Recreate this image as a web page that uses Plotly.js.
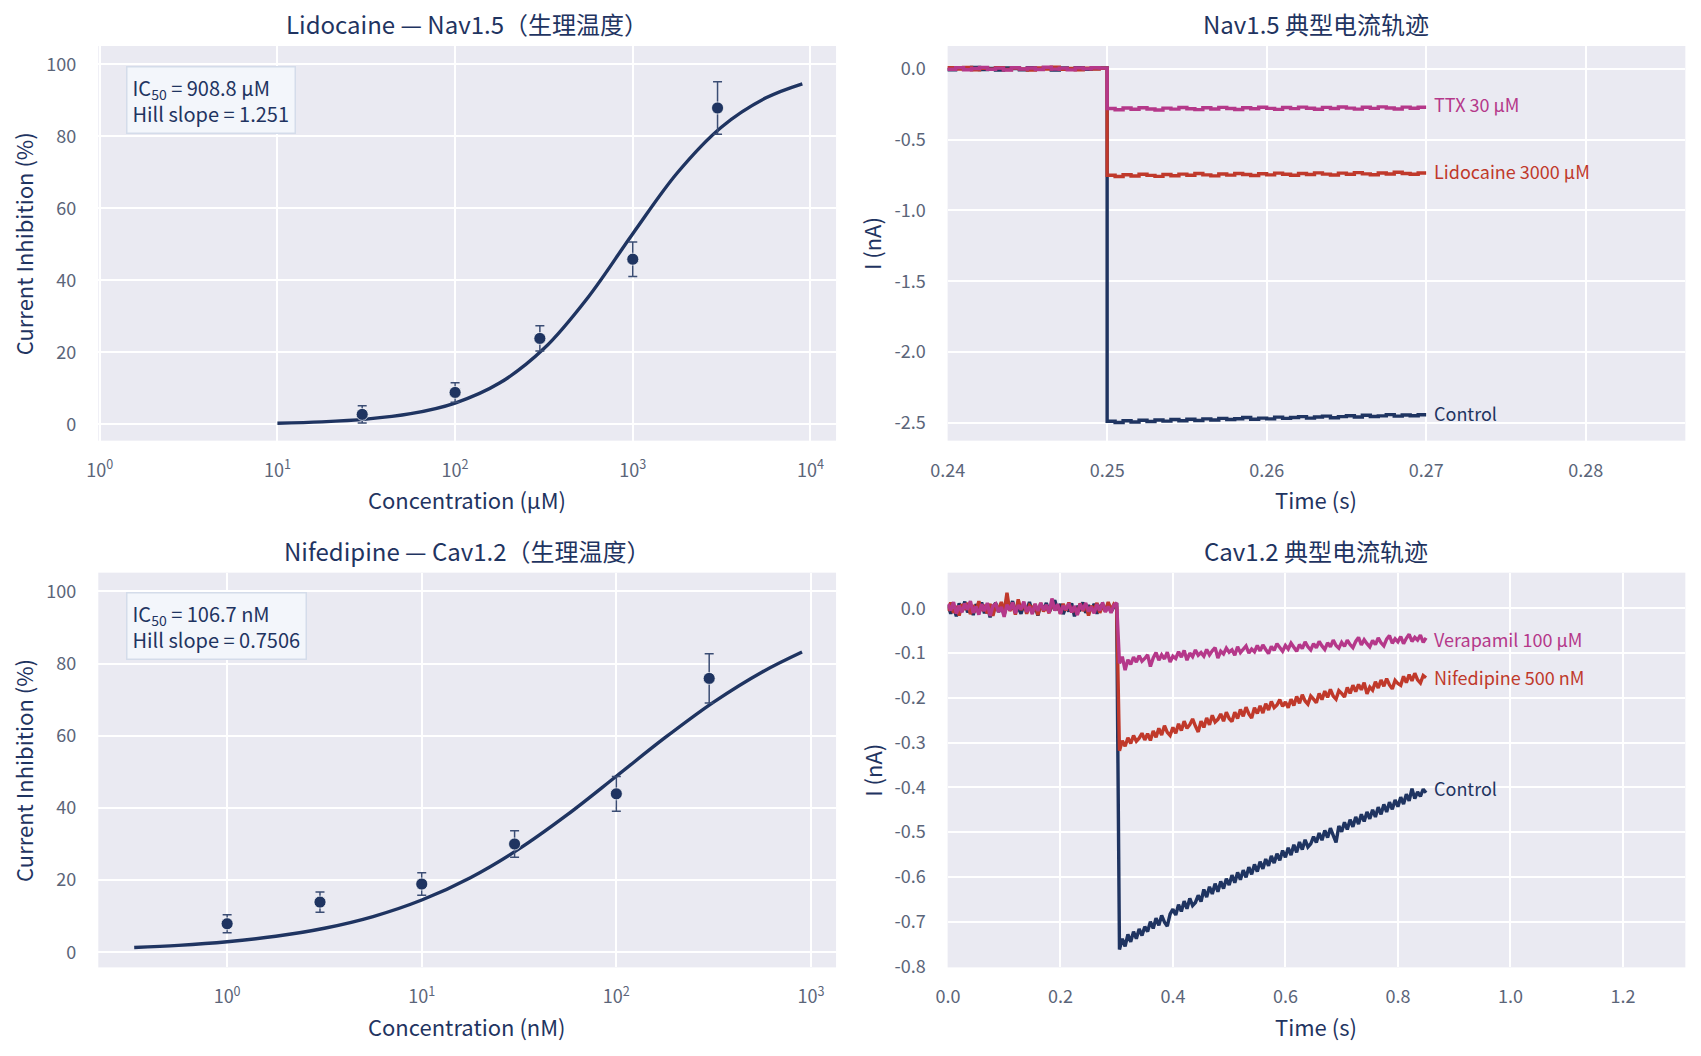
<!DOCTYPE html>
<html>
<head>
<meta charset="utf-8">
<script src="https://cdn.plot.ly/plotly-3.0.1.min.js"></script>
<style>html,body{margin:0;padding:0;background:#fff;}#chart{width:1701px;height:1056px;}</style>
</head>
<body>
<div id="chart"></div>
<script>
// ---------- Dose-response data ----------
const lidoConc = [30, 100, 300, 1000, 3000];
const lidoInhib = [2.8, 8.9, 23.9, 45.9, 87.9];
const lidoErr = [2.4, 2.7, 3.5, 4.8, 7.3];
const lidoFitConc = [10, 17.78, 31.62, 56.23, 100, 177.8, 316.2, 562.3, 1000, 1778, 3162, 5623, 9000];
const lidoFitInhib = [0.35, 0.72, 1.48, 2.99, 5.95, 11.5, 21.07, 35.42, 52.98, 69.84, 82.63, 90.72, 94.62];

const nifeConc = [1, 3, 10, 30, 100, 300];
const nifeInhib = [7.9, 13.9, 18.9, 30.0, 43.9, 75.9];
const nifeErr = [2.5, 2.8, 3.1, 3.7, 4.8, 6.8];
const nifeFitConc = [0.333, 0.562, 1, 1.778, 3.162, 5.623, 10, 17.78, 31.62, 56.23, 100, 177.8, 316.2, 562.3, 900];
const nifeFitInhib = [1.30, 1.91, 2.92, 4.42, 6.65, 9.89, 14.47, 20.67, 28.64, 38.20, 48.78, 59.46, 69.33, 77.69, 83.21];

const logTickVals1 = [1, 10, 100, 1000, 10000];
const logTickText1 = ['10<sup>0</sup>', '10<sup>1</sup>', '10<sup>2</sup>', '10<sup>3</sup>', '10<sup>4</sup>'];
const logTickVals3 = [1, 10, 100, 1000];
const logTickText3 = ['10<sup>0</sup>', '10<sup>1</sup>', '10<sup>2</sup>', '10<sup>3</sup>'];
const navYTickVals = [0, -0.5, -1, -1.5, -2, -2.5];
const navYTickText = ['0.0', '-0.5', '-1.0', '-1.5', '-2.0', '-2.5'];
const cavYTickVals = [0, -0.1, -0.2, -0.3, -0.4, -0.5, -0.6, -0.7, -0.8];
const cavYTickText = ['0.0', '-0.1', '-0.2', '-0.3', '-0.4', '-0.5', '-0.6', '-0.7', '-0.8'];

// ---------- Nav1.5 traces (start 0.24 s, step 0.0005 s) ----------
const navT0 = 0.24, navDt = 0.0005;
const navControlBase = [0.004, -0.008, 0.006, -0.003, 0.009, -0.006, 0.002, -0.01, 0.005, 0.001,
  -0.007, 0.008, -0.004, 0.003, -0.009, 0.006, -0.002, 0.007, -0.005, 0.002,
  0.005];
const navControlPost = [-2.488, -2.497, -2.484, -2.493, -2.481, -2.49, -2.479, -2.487, -2.476, -2.484,
  -2.474, -2.483, -2.471, -2.479, -2.468, -2.476, -2.47, -2.462, -2.474, -2.466,
  -2.471, -2.459, -2.468, -2.461, -2.455, -2.466, -2.458, -2.452, -2.463, -2.455,
  -2.449, -2.458, -2.446, -2.454, -2.45, -2.441, -2.452, -2.444, -2.449, -2.442];
const navLidoBase = [-0.005, 0.007, -0.002, 0.009, -0.008, 0.003, -0.004, 0.008, -0.006, 0.005,
  -0.001, -0.009, 0.006, -0.003, 0.01, -0.005, 0.002, -0.007, 0.004, -0.002,
  0.003];
const navLidoPost = [-0.752, -0.761, -0.748, -0.757, -0.745, -0.753, -0.76, -0.747, -0.755, -0.744,
  -0.752, -0.74, -0.749, -0.756, -0.743, -0.751, -0.739, -0.747, -0.754, -0.741,
  -0.749, -0.737, -0.745, -0.752, -0.739, -0.747, -0.735, -0.744, -0.75, -0.737,
  -0.745, -0.733, -0.742, -0.748, -0.736, -0.743, -0.731, -0.74, -0.745, -0.736];
const navTtxBase = [0.006, -0.004, 0.008, -0.007, 0.002, 0.009, -0.005, 0.004, -0.009, 0.007,
  -0.002, 0.005, -0.006, 0.01, -0.003, 0.004, -0.008, 0.006, -0.001, 0.007,
  0.004];
const navTtxPost = [-0.281, -0.29, -0.277, -0.286, -0.275, -0.284, -0.291, -0.278, -0.285, -0.274,
  -0.283, -0.289, -0.276, -0.284, -0.273, -0.281, -0.288, -0.275, -0.283, -0.272,
  -0.28, -0.287, -0.274, -0.282, -0.271, -0.279, -0.286, -0.273, -0.281, -0.27,
  -0.278, -0.285, -0.272, -0.28, -0.269, -0.277, -0.284, -0.271, -0.279, -0.272];

// ---------- Cav1.2 traces (start 0 s, step 0.005 s) ----------
const cavT0 = 0, cavDt = 0.005;
const cavControlBase = [0.008, -0.012, 0.004, -0.018, 0.011, -0.006, 0.015, -0.009, 0.002, -0.015,
  0.009, -0.004, 0.013, -0.011, 0.006, -0.02, 0.003, 0.012, -0.008, 0.005,
  -0.014, 0.01, -0.003, 0.016, -0.007, 0.001, -0.012, 0.008, -0.005, 0.014,
  -0.01, 0.004, -0.016, 0.009, -0.002, 0.012, -0.009, 0.006, 0.018, -0.004,
  0.01, -0.013, 0.003, -0.007, 0.011, -0.018, 0.005, -0.002, 0.013, -0.01,
  0.007, -0.005, 0.01, -0.012, 0.004, 0.009, -0.006, 0.012, -0.008, 0.003,
  0.006];
const cavControlPost = [-0.762, -0.738, -0.755, -0.728, -0.745, -0.722, -0.738, -0.716, -0.731, -0.711,
  -0.722, -0.7, -0.715, -0.692, -0.708, -0.686, -0.701, -0.71, -0.683, -0.672,
  -0.685, -0.662, -0.677, -0.654, -0.671, -0.648, -0.664, -0.657, -0.641, -0.655,
  -0.628, -0.645, -0.622, -0.638, -0.615, -0.633, -0.61, -0.626, -0.604, -0.618,
  -0.596, -0.613, -0.59, -0.606, -0.585, -0.601, -0.578, -0.594, -0.572, -0.588,
  -0.566, -0.582, -0.56, -0.575, -0.553, -0.569, -0.548, -0.563, -0.541, -0.556,
  -0.535, -0.551, -0.528, -0.545, -0.522, -0.539, -0.517, -0.533, -0.526, -0.51,
  -0.523, -0.502, -0.518, -0.496, -0.512, -0.491, -0.507, -0.523, -0.486, -0.499,
  -0.478, -0.494, -0.472, -0.488, -0.466, -0.482, -0.46, -0.476, -0.455, -0.47,
  -0.45, -0.466, -0.444, -0.46, -0.438, -0.455, -0.433, -0.449, -0.428, -0.443,
  -0.422, -0.437, -0.415, -0.43, -0.403, -0.425, -0.41, -0.42, -0.404, -0.412];
const cavNifeBase = [-0.006, 0.013, -0.01, 0.005, -0.016, 0.009, -0.003, 0.012, -0.013, 0.007,
  -0.008, 0.016, -0.005, 0.003, -0.011, 0.01, -0.017, 0.006, -0.002, 0.014,
  -0.009, 0.035, -0.006, 0.008, -0.014, 0.02, -0.004, 0.011, -0.012, 0.006,
  -0.001, 0.009, -0.015, 0.012, -0.007, 0.004, -0.011, 0.016, -0.003, 0.007,
  -0.012, 0.01, -0.005, 0.013, -0.009, 0.002, -0.014, 0.011, -0.006, 0.008,
  -0.016, 0.005, -0.002, 0.012, -0.01, 0.006, -0.007, 0.014, -0.004, 0.009,
  0.002];
const cavNifePost = [-0.318, -0.296, -0.308, -0.289, -0.302, -0.284, -0.297, -0.29, -0.279, -0.294,
  -0.28, -0.295, -0.274, -0.288, -0.268, -0.283, -0.262, -0.277, -0.284, -0.266,
  -0.279, -0.258, -0.273, -0.252, -0.268, -0.26, -0.247, -0.263, -0.276, -0.252,
  -0.266, -0.245, -0.26, -0.239, -0.254, -0.248, -0.236, -0.252, -0.232, -0.246,
  -0.253, -0.232, -0.246, -0.226, -0.241, -0.221, -0.236, -0.245, -0.222, -0.235,
  -0.218, -0.234, -0.213, -0.227, -0.208, -0.222, -0.216, -0.204, -0.219, -0.209,
  -0.222, -0.203, -0.217, -0.197, -0.212, -0.193, -0.207, -0.214, -0.196, -0.203,
  -0.211, -0.19, -0.204, -0.185, -0.199, -0.181, -0.196, -0.203, -0.184, -0.19,
  -0.198, -0.177, -0.19, -0.172, -0.186, -0.17, -0.182, -0.166, -0.191, -0.176,
  -0.183, -0.164, -0.178, -0.16, -0.174, -0.157, -0.171, -0.18, -0.161, -0.168,
  -0.172, -0.152, -0.166, -0.148, -0.162, -0.145, -0.16, -0.167, -0.15, -0.155];
const cavVeraBase = [0.01, -0.005, 0.014, -0.012, 0.006, -0.009, 0.011, -0.003, 0.016, -0.01,
  0.004, -0.014, 0.009, -0.006, 0.012, -0.017, 0.005, 0.01, -0.008, 0.003,
  -0.019, 0.008, -0.004, 0.013, -0.011, 0.007, -0.002, 0.015, -0.008, 0.004,
  -0.013, 0.01, -0.006, 0.012, -0.004, 0.008, -0.01, 0.022, -0.005, 0.009,
  -0.012, 0.006, -0.003, 0.011, -0.009, 0.005, -0.015, 0.01, -0.004, 0.012,
  -0.007, 0.003, -0.011, 0.009, -0.005, 0.013, -0.008, 0.004, -0.01, 0.007,
  0.012];
const cavVeraPost = [-0.123, -0.108, -0.138, -0.115, -0.125, -0.109, -0.12, -0.106, -0.118, -0.112,
  -0.104, -0.13, -0.111, -0.099, -0.116, -0.104, -0.113, -0.098, -0.12, -0.107,
  -0.112, -0.097, -0.109, -0.094, -0.116, -0.1, -0.108, -0.093, -0.105, -0.099,
  -0.107, -0.092, -0.104, -0.095, -0.088, -0.111, -0.096, -0.102, -0.089, -0.098,
  -0.093, -0.105, -0.086, -0.099, -0.09, -0.084, -0.1, -0.091, -0.097, -0.083,
  -0.095, -0.082, -0.092, -0.101, -0.085, -0.094, -0.079, -0.089, -0.096, -0.083,
  -0.091, -0.078, -0.087, -0.096, -0.081, -0.09, -0.075, -0.086, -0.093, -0.079,
  -0.088, -0.074, -0.084, -0.092, -0.077, -0.086, -0.071, -0.083, -0.089, -0.076,
  -0.085, -0.071, -0.081, -0.088, -0.074, -0.065, -0.082, -0.07, -0.079, -0.086,
  -0.072, -0.081, -0.066, -0.077, -0.084, -0.069, -0.061, -0.078, -0.068, -0.075,
  -0.063, -0.079, -0.067, -0.058, -0.074, -0.065, -0.071, -0.06, -0.076, -0.066];

const navLabels = ['Control', 'Lidocaine 3000 µM', 'TTX 30 µM'];
const navLabelY = [-2.432, -0.72, -0.252];
const cavLabels = ['Control', 'Nifedipine 500 nM', 'Verapamil 100 µM'];
const cavLabelY = [-0.402, -0.153, -0.068];

// ---------- Styling ----------
const NAVY = '#1f3461';
const RED = '#c0392b';
const MAG = '#b5388a';
const TICK = '#5b6579';
const FONT = '"Noto Sans CJK SC", "Noto Sans", sans-serif';
const BG = '#eaeaf2';

function traceLine(base, post, t0, dt, color, xa, ya, w, shape) {
  return {type: 'scatter', mode: 'lines', x0: t0, dx: dt, y: base.concat(post),
    line: {color: color, width: w, shape: shape}, xaxis: xa, yaxis: ya, hoverinfo: 'skip'};
}

const data = [
  {type: 'scatter', mode: 'lines', x: lidoFitConc, y: lidoFitInhib, line: {color: NAVY, width: 3.4, shape: 'spline'}, xaxis: 'x', yaxis: 'y'},
  {type: 'scatter', mode: 'markers', x: lidoConc, y: lidoInhib,
    error_y: {type: 'data', array: lidoErr, visible: true, color: '#3b4d74', thickness: 1.5, width: 4.5},
    marker: {color: NAVY, size: 12, line: {color: 'rgba(255,255,255,0.7)', width: 1}}, xaxis: 'x', yaxis: 'y'},
  traceLine(navControlBase, navControlPost, navT0, navDt, NAVY, 'x2', 'y2', 3.4, 'vh'),
  traceLine(navLidoBase, navLidoPost, navT0, navDt, RED, 'x2', 'y2', 3.4, 'vh'),
  traceLine(navTtxBase, navTtxPost, navT0, navDt, MAG, 'x2', 'y2', 3.4, 'vh'),
  {type: 'scatter', mode: 'lines', x: nifeFitConc, y: nifeFitInhib, line: {color: NAVY, width: 3.4, shape: 'spline'}, xaxis: 'x3', yaxis: 'y3'},
  {type: 'scatter', mode: 'markers', x: nifeConc, y: nifeInhib,
    error_y: {type: 'data', array: nifeErr, visible: true, color: '#3b4d74', thickness: 1.5, width: 4.5},
    marker: {color: NAVY, size: 12, line: {color: 'rgba(255,255,255,0.7)', width: 1}}, xaxis: 'x3', yaxis: 'y3'},
  traceLine(cavControlBase, cavControlPost, cavT0, cavDt, NAVY, 'x4', 'y4', 3.4, 'linear'),
  traceLine(cavNifeBase, cavNifePost, cavT0, cavDt, RED, 'x4', 'y4', 3.4, 'linear'),
  traceLine(cavVeraBase, cavVeraPost, cavT0, cavDt, MAG, 'x4', 'y4', 3.4, 'linear')
];

const gridAxis = {
  showgrid: true, gridcolor: '#ffffff', gridwidth: 2, zeroline: false, showline: false,
  ticks: '', tickfont: {family: FONT, size: 18, color: TICK}
};

const XL = [0.0578, 0.4915], XR = [0.5571, 0.9908];
const YT = [0.5827, 0.9564], YB = [0.0839, 0.4577];

const layout = {
  width: 1701, height: 1056,
  margin: {l: 0, r: 0, t: 0, b: 0},
  paper_bgcolor: '#ffffff', plot_bgcolor: BG,
  showlegend: false, hovermode: false,
  font: {family: FONT, color: NAVY},
  xaxis: Object.assign({}, gridAxis, {domain: XL, anchor: 'y', type: 'log', range: [-0.008, 4.144],
    tickmode: 'array', tickvals: logTickVals1, ticktext: logTickText1, ticklabelstandoff: 17}),
  yaxis: Object.assign({}, gridAxis, {domain: YT, anchor: 'x', range: [-4.5, 105.1], dtick: 20, tick0: 0, ticklabelstandoff: 21}),
  xaxis2: Object.assign({}, gridAxis, {domain: XR, anchor: 'y2', range: [0.24, 0.28625], dtick: 0.01, tick0: 0.24, tickformat: '.2f', ticklabelstandoff: 17}),
  yaxis2: Object.assign({}, gridAxis, {domain: YT, anchor: 'x2', range: [-2.625, 0.16],
    tickmode: 'array', tickvals: navYTickVals, ticktext: navYTickText, ticklabelstandoff: 21}),
  xaxis3: Object.assign({}, gridAxis, {domain: XL, anchor: 'y3', type: 'log', range: [-0.662, 3.129],
    tickmode: 'array', tickvals: logTickVals3, ticktext: logTickText3, ticklabelstandoff: 17}),
  yaxis3: Object.assign({}, gridAxis, {domain: YB, anchor: 'x3', range: [-4.2, 105.2], dtick: 20, tick0: 0, ticklabelstandoff: 21}),
  xaxis4: Object.assign({}, gridAxis, {domain: XR, anchor: 'y4', range: [-0.0005, 1.311], dtick: 0.2, tick0: 0, tickformat: '.1f', ticklabelstandoff: 17}),
  yaxis4: Object.assign({}, gridAxis, {domain: YB, anchor: 'x4', range: [-0.802, 0.0796],
    tickmode: 'array', tickvals: cavYTickVals, ticktext: cavYTickText, ticklabelstandoff: 21}),
  annotations: []
};

const A = layout.annotations;
function title(text, x, y, size) {
  A.push({text: text, xref: 'paper', yref: 'paper', x: x, y: y, xanchor: 'center', yanchor: 'middle',
    showarrow: false, font: {family: FONT, size: size, color: NAVY}});
}
function ytitle(text, x, y) {
  A.push({text: text, xref: 'paper', yref: 'paper', x: x, y: y, xanchor: 'center', yanchor: 'middle',
    textangle: -90, showarrow: false, font: {family: FONT, size: 22, color: NAVY}});
}
const cL = (XL[0] + XL[1]) / 2, cR = (XR[0] + XR[1]) / 2;
title('Lidocaine — Nav1.5（生理温度）', cL, 0.978, 24);
title('Nav1.5 典型电流轨迹', cR, 0.978, 24);
title('Nifedipine — Cav1.2（生理温度）', cL, 0.4783, 24);
title('Cav1.2 典型电流轨迹', cR, 0.4783, 24);
title('Concentration (µM)', cL, 0.5275, 22);
title('Time (s)', cR, 0.5275, 22);
title('Concentration (nM)', cL, 0.0284, 22);
title('Time (s)', cR, 0.0284, 22);
ytitle('Current Inhibition (%)', 0.0135, (YT[0] + YT[1]) / 2);
ytitle('I (nA)', 0.5125, (YT[0] + YT[1]) / 2);
ytitle('Current Inhibition (%)', 0.0135, (YB[0] + YB[1]) / 2);
ytitle('I (nA)', 0.5125, (YB[0] + YB[1]) / 2);

function box(text, xr, yr) {
  A.push({text: text, xref: xr + ' domain', yref: yr + ' domain', x: 0.0375, y: 0.95,
    xanchor: 'left', yanchor: 'top', align: 'left', showarrow: false,
    bgcolor: '#f3f6fb', bordercolor: '#d4dcea', borderwidth: 1.5, borderpad: 5,
    font: {family: FONT, size: 20, color: NAVY}});
}
box('IC<sub>50</sub> = 908.8 µM<br>Hill slope = 1.251', 'x', 'y');
box('IC<sub>50</sub> = 106.7 nM<br>Hill slope = 0.7506', 'x3', 'y3');

function endLabel(text, x, y, xr, yr, color) {
  A.push({text: text, xref: xr, yref: yr, x: x, y: y, xanchor: 'left', yanchor: 'middle',
    xshift: 6, showarrow: false, font: {family: FONT, size: 18, color: color}});
}
for (let i = 0; i < 3; i++) {
  endLabel(navLabels[i], 0.27, navLabelY[i], 'x2', 'y2', [NAVY, RED, MAG][i]);
  endLabel(cavLabels[i], 0.85, cavLabelY[i], 'x4', 'y4', [NAVY, RED, MAG][i]);
}

Plotly.newPlot('chart', data, layout, {displayModeBar: false, responsive: false});
</script>
</body>
</html>
